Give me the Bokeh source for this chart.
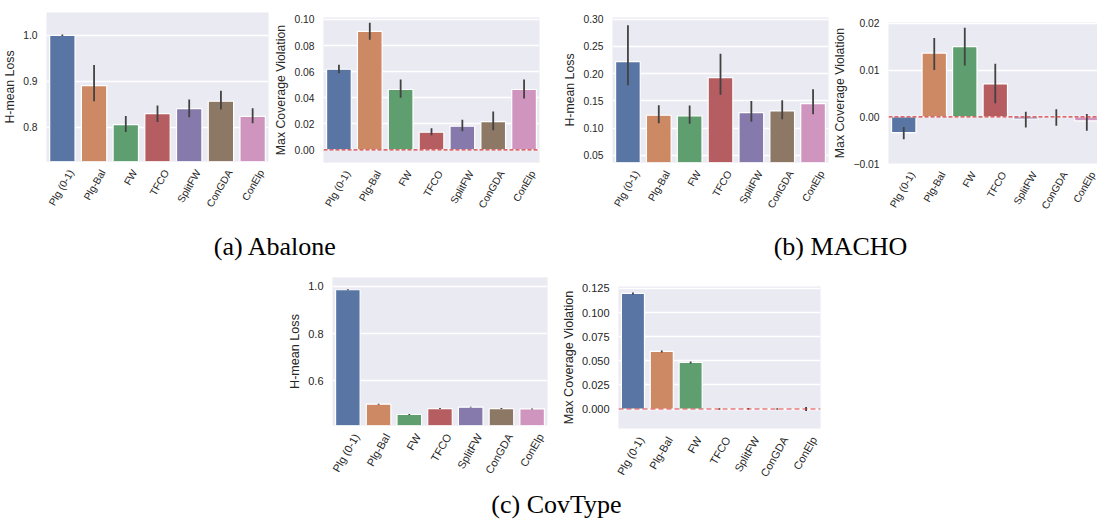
from bokeh.plotting import figure
from bokeh.layouts import column, row
from bokeh.models import Range1d, FixedTicker, Span, Label, Spacer
from bokeh.embed import file_html
from bokeh.resources import INLINE

# ---------------- data ----------------
methods = ["Plg (0-1)", "Plg-Bal", "FW", "TFCO", "SplitFW", "ConGDA", "ConElp"]
bar_colors = ["#5975A4", "#CC8963", "#5F9E6E", "#B55D60", "#857AAB", "#8D7866", "#D095BF"]

abalone_loss = [1.000, 0.891, 0.806, 0.830, 0.841, 0.857, 0.824]
abalone_loss_lo = [0.999, 0.857, 0.790, 0.812, 0.822, 0.839, 0.809]
abalone_loss_hi = [1.002, 0.936, 0.825, 0.848, 0.861, 0.880, 0.842]

abalone_viol = [0.0618, 0.0908, 0.0463, 0.0135, 0.0181, 0.0217, 0.0463]
abalone_viol_lo = [0.0588, 0.0844, 0.0399, 0.0112, 0.0143, 0.0150, 0.0394]
abalone_viol_hi = [0.0652, 0.0974, 0.0540, 0.0166, 0.0230, 0.0294, 0.0540]

macho_loss = [0.222, 0.1237, 0.1226, 0.1926, 0.1286, 0.1317, 0.1450]
macho_loss_lo = [0.1785, 0.1090, 0.1080, 0.1615, 0.1116, 0.1163, 0.1255]
macho_loss_hi = [0.2890, 0.1420, 0.1414, 0.2365, 0.1500, 0.1510, 0.1712]

macho_viol = [-0.0034, 0.01365, 0.01505, 0.00704, -0.0005, 0.0000, -0.00085]
macho_viol_lo = [-0.0048, 0.0100, 0.0110, 0.0029, -0.0023, -0.0019, -0.0030]
macho_viol_hi = [-0.0022, 0.0169, 0.0191, 0.01136, 0.0011, 0.0016, 0.0006]

covtype_loss = [0.986, 0.4995, 0.4557, 0.481, 0.487, 0.481, 0.4795]
covtype_loss_lo = [0.984, 0.4975, 0.4537, 0.479, 0.485, 0.479, 0.4775]
covtype_loss_hi = [0.988, 0.5015, 0.4577, 0.483, 0.489, 0.483, 0.4815]

covtype_viol = [0.1198, 0.0597, 0.0483, 0.0002, 0.0003, 0.0002, 0.0001]
covtype_viol_lo = [0.1188, 0.0587, 0.0473, -0.0006, -0.0005, -0.0006, -0.0019]
covtype_viol_hi = [0.1208, 0.0607, 0.0493, 0.0010, 0.0011, 0.0010, 0.0021]

ticks_a_loss = [0.8, 0.9, 1.0]
labels_a_loss = ["0.8", "0.9", "1.0"]
ticks_a_viol = [0.0, 0.02, 0.04, 0.06, 0.08, 0.10]
labels_a_viol = ["0.00", "0.02", "0.04", "0.06", "0.08", "0.10"]
ticks_m_loss = [0.05, 0.10, 0.15, 0.20, 0.25, 0.30]
labels_m_loss = ["0.05", "0.10", "0.15", "0.20", "0.25", "0.30"]
ticks_m_viol = [-0.01, 0.0, 0.01, 0.02]
labels_m_viol = ["\u22120.01", "0.00", "0.01", "0.02"]
ticks_c_loss = [0.6, 0.8, 1.0]
labels_c_loss = ["0.6", "0.8", "1.0"]
ticks_c_viol = [0.0, 0.025, 0.05, 0.075, 0.10, 0.125]
labels_c_viol = ["0.000", "0.025", "0.050", "0.075", "0.100", "0.125"]

captions = ["(a) Abalone", "(b) MACHO", "(c) CovType"]

TEXT = "#262626"
LABEL_SHIFT = 0.28


def panel(width, height, bl, br, bt, bb, xr, yr, yticks, ylabels, ylabel,
          vals, lo, hi, zero=None, tick_fs="10.3px", label_fs="12.3px"):
    p = figure(width=width, height=height, x_range=Range1d(*xr), y_range=Range1d(*yr),
               output_backend="svg", toolbar_location=None, title=None,
               min_border_left=bl, min_border_right=br, min_border_top=bt, min_border_bottom=bb)
    p.background_fill_color = "#EAEAF2"
    p.border_fill_color = "white"
    p.outline_line_color = None
    idx = list(range(len(methods)))
    p.vbar(x=idx, top=vals, bottom=0, width=0.8, fill_color=bar_colors,
           line_color="white", line_width=1.2)
    p.segment(x0=idx, x1=idx, y0=lo, y1=hi, line_color="#424242", line_width=1.8)
    if zero is not None:
        p.add_layout(Span(location=0, dimension="width", **zero))
    # axes
    p.xgrid.visible = False
    p.ygrid.grid_line_color = "white"
    p.ygrid.grid_line_width = 1.3
    p.ygrid.ticker = FixedTicker(ticks=yticks)
    p.yaxis.ticker = FixedTicker(ticks=yticks)
    p.yaxis.major_label_overrides = {t: s for t, s in zip(yticks, ylabels)}
    xt = [i + LABEL_SHIFT for i in idx]
    p.xaxis.ticker = FixedTicker(ticks=xt)
    p.xaxis.major_label_overrides = {t: s for t, s in zip(xt, methods)}
    p.xaxis.major_label_orientation = 1.0472
    p.yaxis.axis_label = ylabel
    for ax in (p.xaxis, p.yaxis):
        ax.axis_line_color = None
        ax.major_tick_line_color = None
        ax.minor_tick_line_color = None
        ax.major_label_text_font = "Liberation Sans"
        ax.major_label_text_font_size = tick_fs
        ax.major_label_text_color = TEXT
        ax.axis_label_text_font = "Liberation Sans"
        ax.axis_label_text_font_size = label_fs
        ax.axis_label_text_font_style = "normal"
        ax.axis_label_text_color = TEXT
        ax.major_label_standoff = 3
        ax.axis_label_standoff = 3
    return p


def offset(fig, dy):
    # wrap a figure so that it starts dy pixels lower inside its row
    if dy <= 0:
        return column(fig)
    return column(Spacer(width=fig.width, height=dy), fig)


red_line = dict(line_color="#D03A3E", line_width=1.2, line_dash="4 2")
red_line_light = dict(line_color="#D62728", line_alpha=0.45, line_width=2, line_dash="5 3")

f1 = panel(270, 226, 45, 2, 12, 65, (-0.5, 6.5), (0.726, 1.05), ticks_a_loss, labels_a_loss,
           "H-mean Loss", abalone_loss, abalone_loss_lo, abalone_loss_hi)
f2 = panel(290, 221, 53, 21, 12, 64, (-0.5, 6.5), (-0.0097, 0.1015), ticks_a_viol, labels_a_viol,
           "Max Coverage Violation", abalone_viol, abalone_viol_lo, abalone_viol_hi, zero=red_line)
f3 = panel(270, 221, 50, 2, 12, 64, (-0.5, 6.5), (0.037, 0.303), ticks_m_loss, labels_m_loss,
           "H-mean Loss", macho_loss, macho_loss_lo, macho_loss_hi)
f4 = panel(267, 216, 58, 0, 12, 63, (-0.5, 6.35), (-0.0100, 0.0202), ticks_m_viol, labels_m_viol,
           "Max Coverage Violation", macho_viol, macho_viol_lo, macho_viol_hi, zero=red_line)

f5 = panel(273, 228, 40, 11, 15, 65, (-0.5, 6.5), (0.409, 1.038), ticks_c_loss, labels_c_loss,
           "H-mean Loss", covtype_loss, covtype_loss_lo, covtype_loss_hi,
           tick_fs="11px", label_fs="12.6px")
f6 = panel(272, 219, 50, 10, 15, 62, (-0.5, 6.5), (-0.0201, 0.127), ticks_c_viol, labels_c_viol,
           "Max Coverage Violation", covtype_viol, covtype_viol_lo, covtype_viol_hi,
           zero=red_line_light, tick_fs="11px", label_fs="12.6px")


def caption_fig(width, height, items):
    c = figure(width=width, height=height, x_axis_type=None, y_axis_type=None,
               output_backend="svg", toolbar_location=None, min_border=0, title=None)
    c.outline_line_color = None
    c.grid.visible = False
    for text, x, y in items:
        c.add_layout(Label(x=x, y=y, x_units="screen", y_units="screen", text=text,
                           text_font="Liberation Serif", text_font_size="26px",
                           text_align="center", text_baseline="middle", text_color="black"))
    return c


cap1 = caption_fig(1097, 36, [(captions[0], 275, 16), (captions[1], 840, 16)])
cap2 = caption_fig(1097, 30, [(captions[2], 556, 16)])

layout = column(row(offset(f1, 0), offset(f2, 5), offset(f3, 5), offset(f4, 10)),
                cap1,
                row(Spacer(width=285, height=228), offset(f5, 0), offset(f6, 9)),
                cap2)

open("out.html", "w").write(file_html(layout, INLINE))
